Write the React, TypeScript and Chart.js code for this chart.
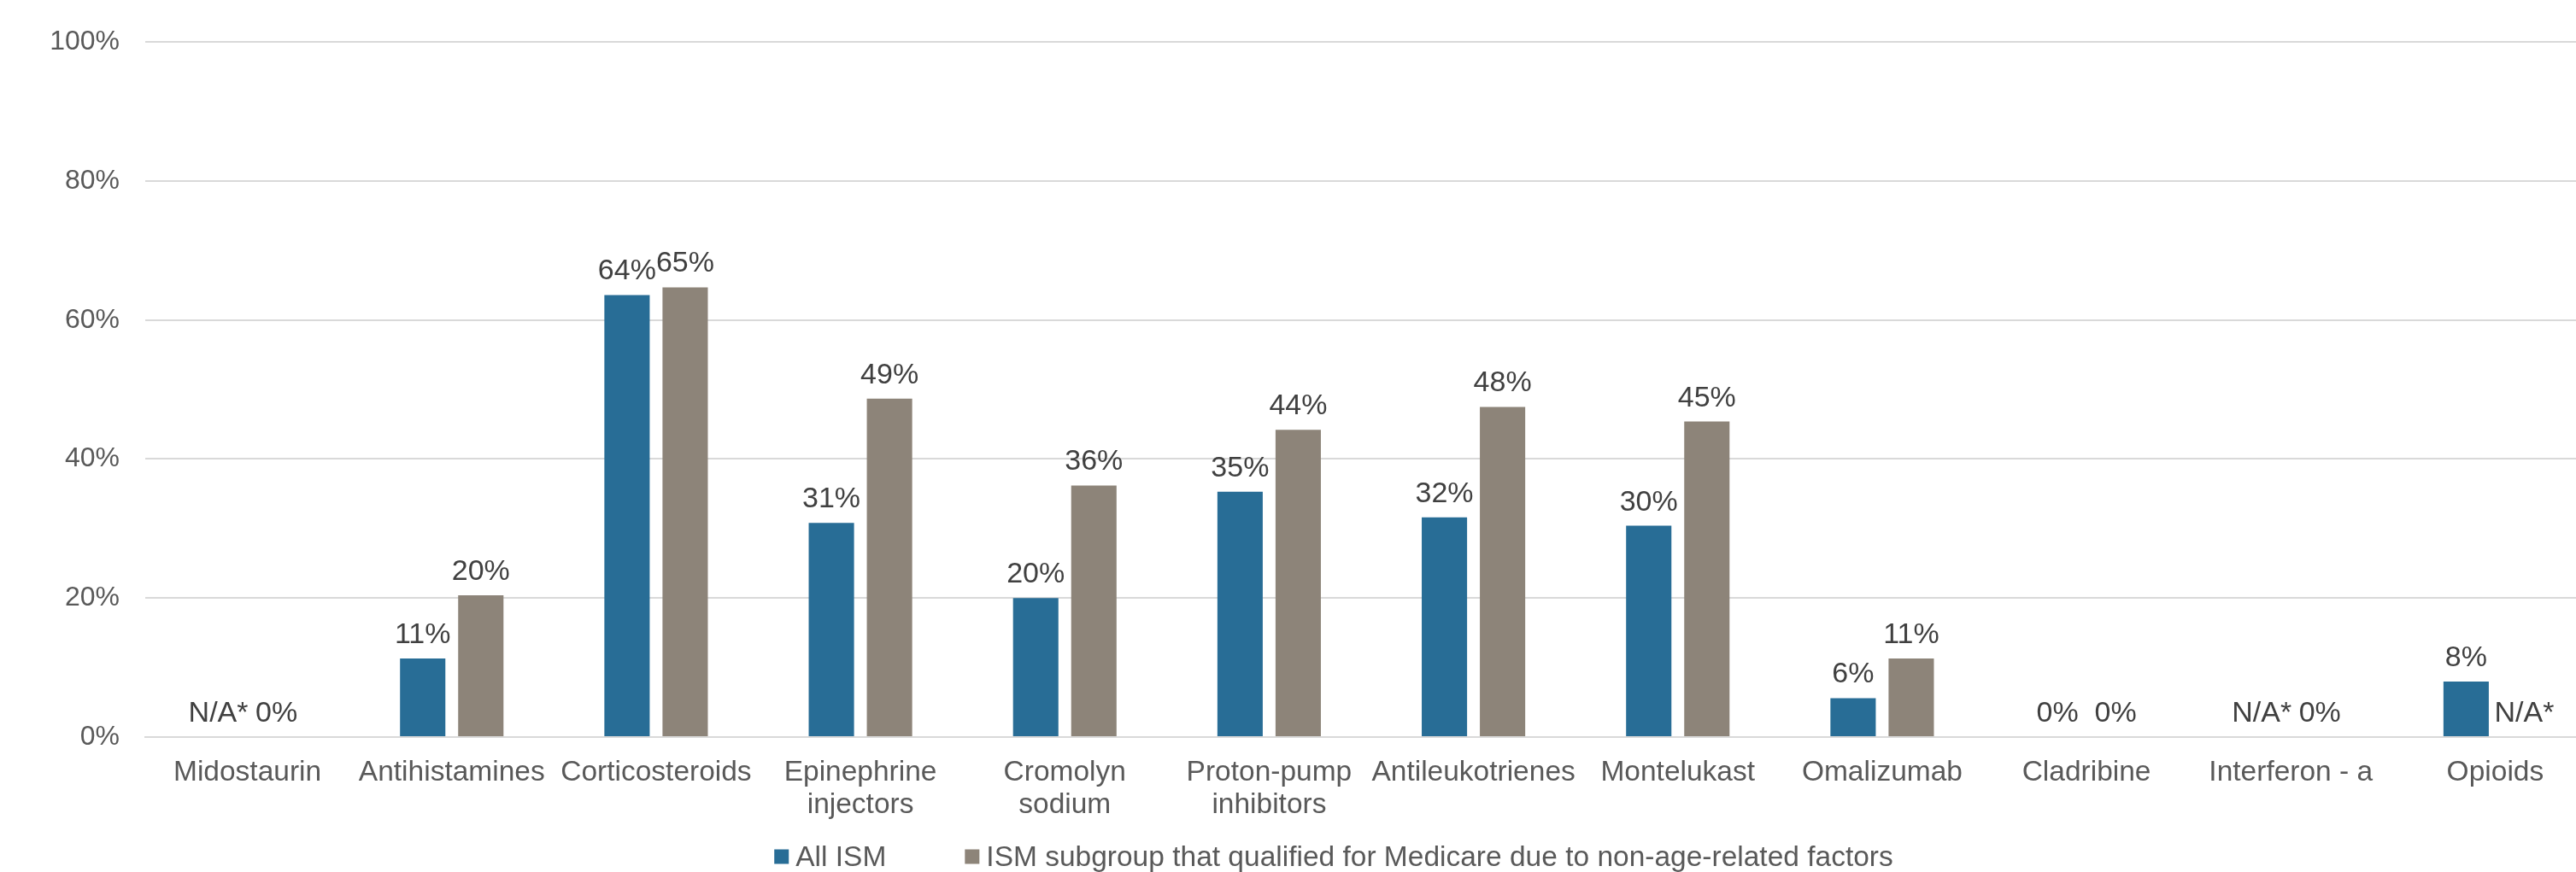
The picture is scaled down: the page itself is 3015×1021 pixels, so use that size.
import React, { useEffect, useRef } from "react";
import { Chart, registerables } from "chart.js";

Chart.register(...registerables);

const categories: (string | string[])[] = [
  "Midostaurin",
  "Antihistamines",
  "Corticosteroids",
  ["Epinephrine", "injectors"],
  ["Cromolyn", "sodium"],
  ["Proton-pump", "inhibitors"],
  "Antileukotrienes",
  "Montelukast",
  "Omalizumab",
  "Cladribine",
  "Interferon - a",
  "Opioids",
];

const allISM: (number | null)[] = [null, 11.3, 63.6, 30.8, 20.0, 35.3, 31.6, 30.4, 5.6, 0, null, 8.0];
const subgroup: (number | null)[] = [0, 20.4, 64.7, 48.7, 36.2, 44.2, 47.5, 45.4, 11.3, 0, 0, null];

const seriesNames = [
  "All ISM",
  "ISM subgroup that qualified for Medicare due to non-age-related factors",
];
const seriesColors = ["#286D96", "#8D8479"];

const yTickValues = [0, 20, 40, 60, 80, 100];
const naLabel = "N/A*";

const FONT = "'Liberation Sans', Arial, sans-serif";

const barLabelPlugin = {
  id: "barLabels",
  afterDatasetsDraw(chart: any) {
    const ctx = chart.ctx;
    const y0 = chart.scales.y.getPixelForValue(0);
    ctx.save();
    ctx.font = `34px ${FONT}`;
    ctx.fillStyle = "#404040";
    ctx.textAlign = "center";
    ctx.textBaseline = "alphabetic";
    chart.data.datasets.forEach((ds: any, di: number) => {
      const meta = chart.getDatasetMeta(di);
      meta.data.forEach((bar: any, i: number) => {
        const v = ds.data[i];
        const text = v == null ? naLabel : Math.round(v) + "%";
        const top = v == null || !isFinite(bar.y) ? y0 : bar.y;
        ctx.fillText(text, bar.x, top - 18);
      });
    });
    ctx.restore();
  },
};

const legendPlugin = {
  id: "customLegend",
  afterDraw(chart: any, _args: any, opts: any) {
    const ctx = chart.ctx;
    ctx.save();
    ctx.font = `33.5px ${FONT}`;
    const box = 17;
    const gap = 8;
    const spacing = 92;
    const items = chart.data.datasets.map((ds: any) => ({
      label: ds.label,
      color: ds.backgroundColor,
      w: ctx.measureText(ds.label).width,
    }));
    const total =
      items.reduce((s: number, it: any) => s + box + gap + it.w, 0) + spacing * (items.length - 1);
    let x = opts.centerX - total / 2;
    const cy = opts.centerY;
    items.forEach((it: any) => {
      ctx.fillStyle = it.color;
      ctx.fillRect(x, cy - box / 2, box, box);
      ctx.fillStyle = "#595959";
      ctx.textAlign = "left";
      ctx.textBaseline = "alphabetic";
      ctx.fillText(it.label, x + box + gap, cy + 11);
      x += box + gap + it.w + spacing;
    });
    ctx.restore();
  },
};

export default function App() {
  const ref = useRef<HTMLCanvasElement | null>(null);

  useEffect(() => {
    if (!ref.current) return;
    const chart = new Chart(ref.current, {
      type: "bar",
      data: {
        labels: categories as any,
        datasets: [
          {
            label: seriesNames[0],
            data: allISM,
            backgroundColor: seriesColors[0],
            categoryPercentage: 0.569,
            barPercentage: 0.78,
          },
          {
            label: seriesNames[1],
            data: subgroup,
            backgroundColor: seriesColors[1],
            categoryPercentage: 0.569,
            barPercentage: 0.78,
          },
        ],
      },
      options: {
        responsive: false,
        animation: false,
        devicePixelRatio: 1,
        layout: { padding: { top: 46, left: 0, right: 5, bottom: 0 } },
        font: { family: FONT, size: 32 },
        plugins: {
          legend: { display: false },
          tooltip: { enabled: false },
          title: { display: false },
          customLegend: { centerX: 1561, centerY: 1003 },
        } as any,
        scales: {
          x: {
            grid: { display: false, drawTicks: false },
            border: { display: true, color: "#D9D9D9", width: 2 },
            ticks: {
              color: "#595959",
              font: { family: FONT, size: 33.5, lineHeight: 1.13 },
              padding: 23,
              maxRotation: 0,
              minRotation: 0,
              autoSkip: false,
            },
            afterFit(scale: any) {
              scale.height = 158;
            },
          },
          y: {
            min: 0,
            max: 100,
            grid: { color: "#D9D9D9", lineWidth: 2, drawTicks: false },
            border: { display: false },
            afterBuildTicks(scale: any) {
              scale.ticks = yTickValues.map((v) => ({ value: v }));
            },
            ticks: {
              color: "#595959",
              font: { family: FONT, size: 32 },
              padding: 30,
              callback: (v: any) => v + "%",
            },
            afterFit(scale: any) {
              scale.width = 170;
            },
          },
        },
      },
      plugins: [barLabelPlugin, legendPlugin],
    });
    return () => chart.destroy();
  }, []);

  return (
    <div
      style={{
        position: "absolute",
        left: 0,
        top: 0,
        width: 3015,
        height: 1021,
        overflow: "hidden",
        background: "#ffffff",
      }}
    >
      <canvas ref={ref} width={3045} height={1021} style={{ width: 3045, height: 1021, display: "block" }} />
    </div>
  );
}
